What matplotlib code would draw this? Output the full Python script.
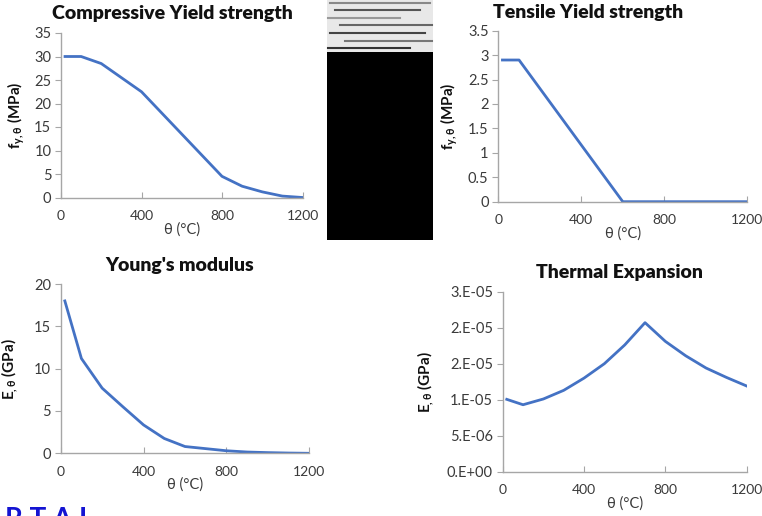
import matplotlib
matplotlib.use("Agg")
import matplotlib.pyplot as plt
from matplotlib.patches import Rectangle

plt.rcParams['font.family'] = ['Lato', 'DejaVu Sans']
plt.rcParams['mathtext.fontset'] = 'custom'
plt.rcParams['mathtext.rm'] = 'Lato'
plt.rcParams['mathtext.it'] = 'Lato'
plt.rcParams['mathtext.bf'] = 'Lato:bold'
plt.rcParams['mathtext.fallback'] = 'stixsans'

# ---- data ----
temps = [20, 100, 200, 300, 400, 500, 600, 700, 800, 900, 1000, 1100, 1200]
compressive = [30, 30, 28.5, 25.5, 22.5, 18, 13.5, 9, 4.5, 2.4, 1.2, 0.3, 0]
tensile = [2.9, 2.9, 2.32, 1.74, 1.16, 0.58, 0, 0, 0, 0, 0, 0, 0]
young = [18, 11.2, 7.7, 5.5, 3.35, 1.75, 0.8, 0.55, 0.3, 0.15, 0.08, 0.03, 0]
thermal = [10.05e-6, 9.3e-6, 10.1e-6, 11.3e-6, 13.0e-6, 15.0e-6, 17.6e-6,
           20.7e-6, 18.1e-6, 16.1e-6, 14.4e-6, 13.1e-6, 11.9e-6]

x_ticks = [0, 400, 800, 1200]
comp_yticks = [0, 5, 10, 15, 20, 25, 30, 35]
tens_yticks = [0, 0.5, 1, 1.5, 2, 2.5, 3, 3.5]
tens_ylabels = ['0', '0.5', '1', '1.5', '2', '2.5', '3', '3.5']
young_yticks = [0, 5, 10, 15, 20]
therm_yticks = [0, 5e-6, 10e-6, 15e-6, 20e-6, 25e-6]
therm_ylabels = ['0.E+00', '5.E-06', '1.E-05', '2.E-05', '2.E-05', '3.E-05']

W, H = 762, 516
fig = plt.figure(figsize=(W / 100, H / 100), dpi=100)

LINE = '#4472C4'
TXT = '#3a3a3a'
SPINE = '#A6A6A6'


def make_ax(l, r, t, b):
    return fig.add_axes([l / W, 1 - b / H, (r - l) / W, (b - t) / H])


def style(ax, title, title_x, title_pad, ylabel, yticks, ylabels, ylim, ylabel_pad):
    ax.set_xlim(0, 1200)
    ax.set_ylim(*ylim)
    ax.set_xticks(x_ticks)
    ax.set_yticks(yticks)
    ax.set_yticklabels(ylabels)
    for s in ['top', 'right']:
        ax.spines[s].set_visible(False)
    for s in ['left', 'bottom']:
        ax.spines[s].set_color(SPINE)
        ax.spines[s].set_linewidth(1.0)
    ax.tick_params(axis='x', direction='in', length=4, color=SPINE, labelsize=10,
                   labelcolor=TXT, pad=9)
    ax.tick_params(axis='y', direction='out', length=4, color=SPINE, labelsize=10.5,
                   labelcolor=TXT, pad=3)
    ax.set_title(title, fontsize=14, fontweight='heavy', color='#111111',
                 x=title_x, pad=title_pad)
    ax.set_xlabel('θ (°C)', fontsize=10.5, color=TXT, labelpad=0)
    ax.set_ylabel(ylabel, fontsize=11, fontweight='bold', color='#111111', labelpad=ylabel_pad)


ax1 = make_ax(61, 302.5, 33, 197.5)
ax1.plot(temps, compressive, color=LINE, lw=2)
style(ax1, 'Compressive Yield strength', 0.46, 10, r'$\mathbf{f_{y,\theta}}$ (MPa)',
      comp_yticks, [str(v) for v in comp_yticks], (0, 35), 5)

ax2 = make_ax(498.3, 747.3, 30.7, 201.7)
ax2.plot(temps, tensile, color=LINE, lw=2)
style(ax2, 'Tensile Yield strength', 0.36, 9, r'$\mathbf{f_{y,\theta}}$ (MPa)',
      tens_yticks, tens_ylabels, (0, 3.5), 6)

ax3 = make_ax(60.7, 309.3, 284, 453.3)
ax3.plot(temps, young, color=LINE, lw=2)
style(ax3, "Young's modulus", 0.48, 9, r'$\mathbf{E_{,\theta}}$ (GPa)',
      young_yticks, [str(v) for v in young_yticks], (0, 20), 10)

ax4 = make_ax(502.7, 746.7, 291.7, 471.7)
ax4.plot(temps, thermal, color=LINE, lw=2)
style(ax4, 'Thermal Expansion', 0.48, 10, r'$\mathbf{E_{,\theta}}$ (GPa)',
      therm_yticks, therm_ylabels, (0, 25e-6), 8)

# black block with noisy strip at top
fig.patches.append(Rectangle((327 / W, 1 - 240 / H), (433 - 327) / W, (240 - 52) / H,
                             transform=fig.transFigure, facecolor='black', edgecolor='none'))
fig.patches.append(Rectangle((327 / W, 1 - 52 / H), (433 - 327) / W, 52 / H,
                             transform=fig.transFigure, facecolor='#e8e8e8', edgecolor='none'))
for yy, c, x0, x1 in [(3, '#888888', 330, 430), (10, '#555555', 335, 420),
                      (18, '#999999', 328, 400), (25, '#666666', 340, 432),
                      (33, '#444444', 330, 425), (41, '#777777', 345, 432),
                      (48, '#333333', 328, 410)]:
    fig.lines.append(plt.Line2D([x0 / W, x1 / W], [1 - yy / H, 1 - yy / H],
                                transform=fig.transFigure, color=c, lw=1.5))

fig.text(5 / W, 1 - 528 / H, 'R T A L', fontsize=20, fontweight='bold', color='#1414d2',
         ha='left', va='baseline')

fig.savefig('out.png', dpi=100)
